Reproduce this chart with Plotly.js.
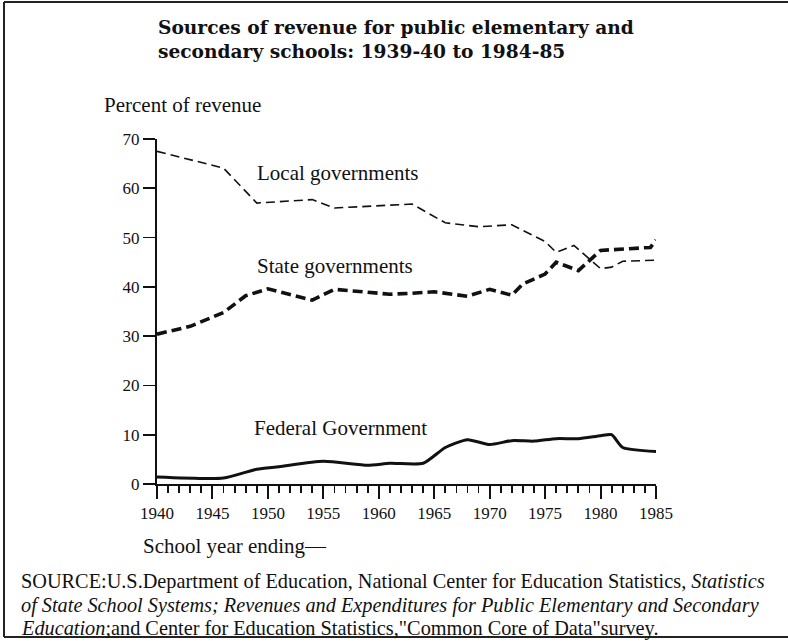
<!DOCTYPE html>
<html>
<head>
<meta charset="utf-8">
<script src="https://cdn.plot.ly/plotly-3.0.1.min.js"></script>
<style>
  html, body { margin: 0; padding: 0; background: #fff; }
</style>
</head>
<body>
<div id="chart" style="width:788px;height:644px"></div>
<script>
// ---- Data ----
const localYears   = [1940, 1946, 1949, 1954, 1956, 1960, 1963, 1966, 1969, 1972, 1975, 1976, 1977.6, 1980, 1981, 1982, 1985];
const localValues  = [67.5, 64.1, 57.0, 57.7, 56.0, 56.4, 56.8, 53.0, 52.2, 52.6, 49.2, 47.0, 48.4, 43.7, 44.0, 45.2, 45.4];

const stateYears   = [1940, 1943, 1946, 1948, 1950, 1954, 1956, 1961, 1963, 1965, 1968, 1970, 1972, 1973, 1975, 1976, 1978, 1979.3, 1980, 1984.5, 1985];
const stateValues  = [30.4, 32.0, 34.8, 38.2, 39.6, 37.3, 39.5, 38.5, 38.7, 39.0, 38.1, 39.5, 38.3, 40.6, 42.6, 45.0, 43.3, 46.0, 47.4, 48.0, 49.5];

const fedYears     = [1940, 1946, 1949, 1951, 1955, 1959, 1961, 1964, 1966, 1968, 1970, 1972, 1974, 1976, 1978, 1980, 1981, 1982, 1985];
const fedValues    = [1.4, 1.2, 3.0, 3.5, 4.6, 3.8, 4.2, 4.2, 7.4, 9.0, 8.0, 8.8, 8.7, 9.2, 9.2, 9.8, 10.0, 7.4, 6.6];

const xTickStart   = 1940;   // major ticks every 5 years, minor every year
const yTickStart   = 0;      // ticks every 10 percent

const seriesNames  = ["Local governments", "State governments", "Federal Government"];

const titleLines   = ["Sources of revenue for public elementary and", "secondary schools: 1939-40 to 1984-85"];
const sourceLines  = [
  "SOURCE:U.S.Department of Education, National Center for Education Statistics, <i>Statistics</i>",
  "<i>of State School Systems; Revenues and Expenditures for Public Elementary and Secondary</i>",
  "<i>Education</i>;and Center for Education Statistics,\"Common Core of Data\"survey."
];

const serif = "'Liberation Serif', 'Times New Roman', serif";

const traces = [
  { x: localYears, y: localValues, name: seriesNames[0], mode: "lines",
    line: { color: "#111", width: 1.6, dash: "9px,5px" } },
  { x: stateYears, y: stateValues, name: seriesNames[1], mode: "lines",
    line: { color: "#111", width: 3.6, dash: "10px,5px" } },
  { x: fedYears, y: fedValues, name: seriesNames[2], mode: "lines",
    line: { color: "#111", width: 3, shape: "spline", smoothing: 0.6 } }
];

// pixel helpers for paper-positioned text (plot area: x 157..656, y 139..484)
const px = v => (v - 157) / 499;
const py = v => (484 - v) / 345;

const annotations = [
  { text: seriesNames[0], x: 1948.9, y: 63.1, xref: "x", yref: "y", xanchor: "left", yanchor: "middle",
    showarrow: false, borderpad: 0, font: { family: serif, size: 21, color: "#111" } },
  { text: seriesNames[1], x: 1948.9, y: 44.2, xref: "x", yref: "y", xanchor: "left", yanchor: "middle",
    showarrow: false, borderpad: 0, font: { family: serif, size: 21, color: "#111" } },
  { text: seriesNames[2], x: 1948.7, y: 11.4, xref: "x", yref: "y", xanchor: "left", yanchor: "middle",
    showarrow: false, borderpad: 0, font: { family: serif, size: 21, color: "#111" } },
  { text: "Percent of revenue", x: px(103), y: py(105), xref: "paper", yref: "paper",
    xanchor: "left", yanchor: "middle", showarrow: false, borderpad: 0,
    font: { family: serif, size: 21, color: "#111" } },
  { text: "School year ending—", x: px(142), y: py(546), xref: "paper", yref: "paper",
    xanchor: "left", yanchor: "middle", showarrow: false, borderpad: 0,
    font: { family: serif, size: 21, color: "#111" } }
];
const titleY = [27, 51];
titleLines.forEach((t, i) => annotations.push({
  text: "<b>" + t + "</b>", x: px(157), y: py(titleY[i]), xref: "paper", yref: "paper",
  xanchor: "left", yanchor: "middle", showarrow: false, borderpad: 0,
  font: { family: "'DejaVu Serif', serif", size: 18.6, color: "#111" }
}));
const sourceY = [581, 605, 628];
sourceLines.forEach((t, i) => annotations.push({
  text: t, x: px(20), y: py(sourceY[i]), xref: "paper", yref: "paper",
  xanchor: "left", yanchor: "middle", showarrow: false, borderpad: 0,
  font: { family: serif, size: 20.3, color: "#111" }
}));

// page frame (left, top, bottom rules) drawn as paper-referenced shapes
const frameLine = { color: "#222", width: 2 };
const shapes = [
  { type: "line", xref: "paper", yref: "paper", x0: px(4), x1: px(4), y0: py(2), y1: py(637), line: frameLine },
  { type: "line", xref: "paper", yref: "paper", x0: px(4), x1: px(788), y0: py(2), y1: py(2), line: frameLine },
  { type: "line", xref: "paper", yref: "paper", x0: px(4), x1: px(788), y0: py(637), y1: py(637), line: frameLine }
];

const layout = {
  width: 788, height: 644,
  margin: { l: 157, r: 132, t: 139, b: 160 },
  showlegend: false,
  xaxis: {
    range: [1940, 1985], tickmode: "linear", tick0: xTickStart, dtick: 5,
    ticks: "outside", ticklen: 13, tickwidth: 2, tickcolor: "#111",
    minor: { dtick: 1, ticks: "outside", ticklen: 7, tickwidth: 1.8, tickcolor: "#111" },
    showline: true, linewidth: 2, linecolor: "#111",
    showgrid: false,
    tickfont: { family: serif, size: 17, color: "#111" }
  },
  yaxis: {
    range: [0, 70], tickmode: "linear", tick0: yTickStart, dtick: 10,
    ticks: "outside", ticklen: 12, tickwidth: 1.8, tickcolor: "#111",
    showline: true, linewidth: 2, linecolor: "#111",
    showgrid: false, zeroline: false,
    tickfont: { family: serif, size: 17, color: "#111" }
  },
  shapes: shapes,
  annotations: annotations
};

Plotly.newPlot("chart", traces, layout, { displayModeBar: false, staticPlot: true });
</script>
</body>
</html>
